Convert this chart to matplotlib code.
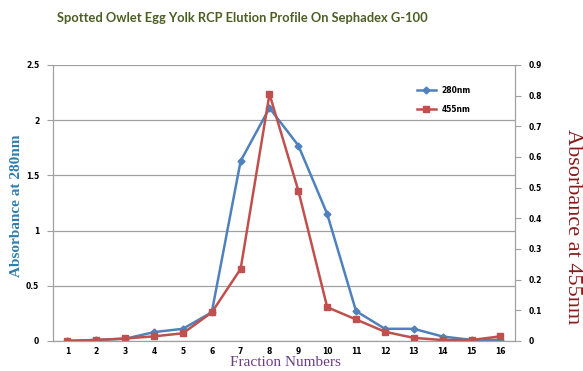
import numpy as np
import matplotlib
matplotlib.use("Agg")
import matplotlib.pyplot as plt

fractions = np.arange(1, 17)
abs_280 = [0.0, 0.01, 0.02, 0.08, 0.11, 0.26, 1.63, 2.11, 1.77, 1.15, 0.27, 0.11, 0.11, 0.04, 0.01, 0.01]
abs_455 = [0.0, 0.003, 0.008, 0.015, 0.025, 0.093, 0.235, 0.805, 0.49, 0.11, 0.07, 0.03, 0.01, 0.003, 0.003, 0.015]

left_ticks = [0, 0.5, 1, 1.5, 2, 2.5]
left_labels = ["0", "0.5", "1", "1.5", "2", "2.5"]
right_ticks = [0, 0.1, 0.2, 0.3, 0.4, 0.5, 0.6, 0.7, 0.8, 0.9]
right_labels = ["0", "0.1", "0.2", "0.3", "0.4", "0.5", "0.6", "0.7", "0.8", "0.9"]

fig = plt.figure(figsize=(5.83, 3.71), dpi=100)
ax = fig.add_axes([0.091, 0.081, 0.792, 0.744])
ax2 = ax.twinx()

l1, = ax.plot(fractions, abs_280, color="#4f81bd", marker="D", markersize=3.5, lw=1.8, label="280nm")
l2, = ax2.plot(fractions, abs_455, color="#c0504d", marker="s", markersize=5, lw=1.8, label="455nm")

ax.set_xlim(0.5, 16.5)
ax.set_ylim(0, 2.5)
ax2.set_ylim(0, 0.9)
ax.set_xticks(fractions)
ax.set_xticklabels([str(f) for f in fractions], fontsize=5.5, fontweight="bold")
ax.set_yticks(left_ticks)
ax.set_yticklabels(left_labels, fontsize=5.5, fontweight="bold")
ax2.set_yticks(right_ticks)
ax2.set_yticklabels(right_labels, fontsize=5.5, fontweight="bold")

ax.grid(axis="y", color="#a0a0a0", lw=0.9)
ax.set_axisbelow(True)
for a in (ax, ax2):
    a.spines["top"].set_visible(False)
    a.spines["left"].set_color("#a0a0a0")
    a.spines["right"].set_color("#a0a0a0")
    a.spines["bottom"].set_color("#a0a0a0")
ax.tick_params(axis="x", length=0, pad=4)
ax.tick_params(axis="y", length=4, color="#a0a0a0", pad=6)
ax2.tick_params(axis="y", length=4, color="#a0a0a0", pad=6)

# axis titles placed in figure pixels like the original
fig.text(285 / 583, 1 - 362 / 371, "Fraction Numbers", family="Liberation Serif", fontsize=11,
         color="#6b3d86", ha="center", va="center")
fig.text(17 / 583, 1 - 206 / 371, "Absorbance at 280nm", family="Liberation Serif", fontsize=11,
         fontweight="bold", color="#2e7fae", rotation=90, ha="center", va="center")
fig.text(572 / 583, 1 - 227 / 371, "Absorbance at 455nm", family="Liberation Serif", fontsize=16,
         color="#8b1a1a", rotation=270, ha="center", va="center")

ax2.legend([l1, l2], ["280nm", "455nm"], loc="upper right", bbox_to_anchor=(0.92, 0.95),
           frameon=False, prop={"size": 5.5, "weight": "bold"}, handlelength=2.5,
           labelspacing=1.3)

fig.text(242 / 583, 1 - 18 / 371, "Spotted Owlet Egg Yolk RCP Elution Profile On Sephadex G-100",
         ha="center", va="center", fontsize=9.3, fontweight="bold", color="#4b5e23",
         family="Lato")

fig.savefig("out.png", dpi=100)
